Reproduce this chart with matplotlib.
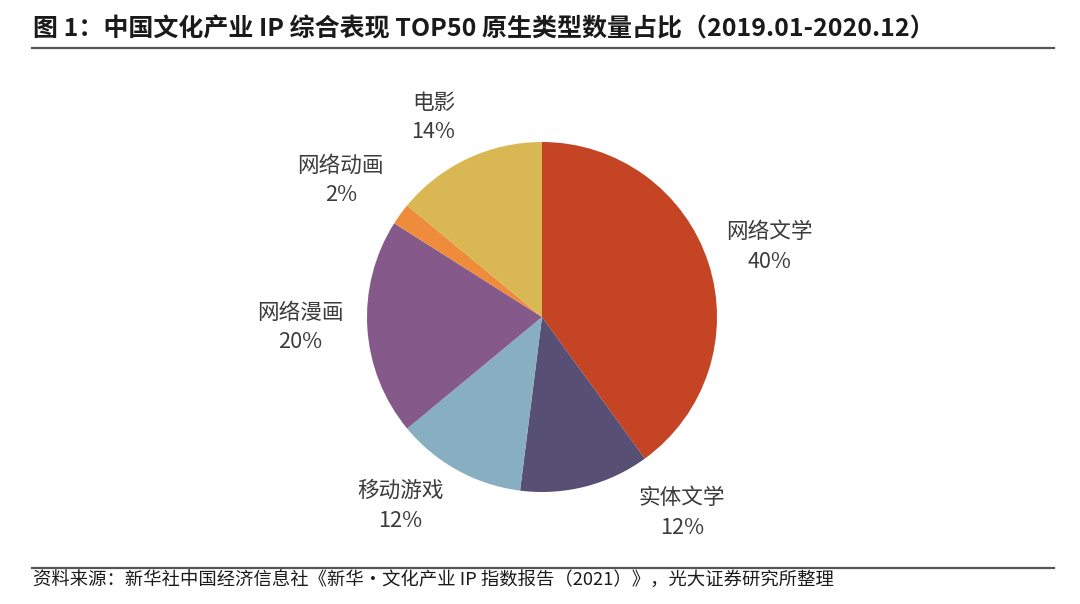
import matplotlib
matplotlib.use("Agg")
from matplotlib import pyplot as plt
from matplotlib.lines import Line2D

plt.rcParams["font.family"] = ["Noto Sans CJK SC", "DejaVu Sans"]

# data
categories = ["网络文学", "实体文学", "移动游戏", "网络漫画", "网络动画", "电影"]
shares = [40, 12, 12, 20, 2, 14]
colors = ["#C44423", "#575074", "#87AEC1", "#855A8A", "#EF8C3B", "#D9B854"]

title = "图 1：中国文化产业 IP 综合表现 TOP50 原生类型数量占比（2019.01-2020.12）"
source = "资料来源：新华社中国经济信息社《新华·文化产业 IP 指数报告（2021）》，光大证券研究所整理"

# label placement (in pie-radius units), layout only
label_xy = [(1.30, 0.40), (0.80, -1.12), (-0.81, -1.08),
            (-1.38, -0.06), (-1.15, 0.78), (-0.62, 1.14)]


def main():
    fig = plt.figure(figsize=(10.8, 6.04), dpi=100)
    W, H = 1080, 604
    cx, cy, r = 542, 317, 175
    ax = fig.add_axes([(cx - r) / W, 1 - (cy + r) / H, 2 * r / W, 2 * r / H])
    ax.pie(shares, colors=colors, startangle=90, counterclock=False,
           radius=1.0, wedgeprops=dict(linewidth=0))
    ax.set_xlim(-1, 1)
    ax.set_ylim(-1, 1)
    ax.set_aspect("equal")
    ax.axis("off")

    for name, val, (lx, ly) in zip(categories, shares, label_xy):
        ax.text(lx, ly, f"{name}\n{val}%", ha="center", va="center",
                fontsize=15.6, color="#3c3c3c", linespacing=1.45,
                clip_on=False)

    fig.text(33 / W, 1 - 29 / H, title, ha="left", va="center",
             fontsize=18.0, fontweight="bold", color="#1a1a1a")
    fig.add_artist(Line2D([32 / W, 1054 / W], [1 - 48 / H, 1 - 48 / H],
                          color="#555555", linewidth=1.6))
    fig.add_artist(Line2D([32 / W, 1054 / W], [1 - 568 / H, 1 - 568 / H],
                          color="#555555", linewidth=1.6))
    fig.text(33 / W, 1 - 581 / H, source, ha="left", va="center",
             fontsize=13.2, color="#1a1a1a")
    return fig


if __name__ == "__main__":
    fig = main()
    fig.savefig("out.png", dpi=100)
